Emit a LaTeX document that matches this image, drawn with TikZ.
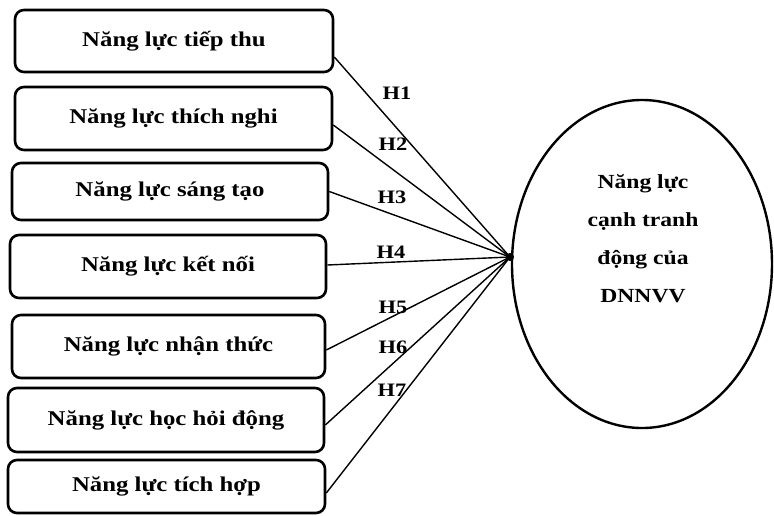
\documentclass[tikz,border=0pt]{standalone}
\usepackage{fontspec}
\setmainfont{Liberation Serif}[FakeStretch=1.18]
\usetikzlibrary{shapes.geometric}
\tikzset{
  factor/.style={draw, line width=2.6pt, rounded corners=9pt, inner sep=0pt,
    font=\fontsize{21}{24}\selectfont\bfseries},
  hyp/.style={font=\fontsize{19}{22}\selectfont\bfseries, inner sep=0pt},
  link/.style={line width=1.4pt},
  target/.style={draw, ellipse, line width=2.4pt, inner sep=0pt}
}
\begin{document}
\begin{tikzpicture}[x=1pt, y=-1pt]
\useasboundingbox (0,0) rectangle (774,515);
\node[factor, minimum width=318pt, minimum height=62pt] (b1) at (174,41) {Năng lực tiếp thu};
\node[factor, minimum width=317pt, minimum height=63pt] (b2) at (173.5,118.5) {Năng lực thích nghi};
\node[factor, minimum width=316pt, minimum height=57pt] (b3) at (170,191.5) {Năng lực sáng tạo};
\node[factor, minimum width=316pt, minimum height=63pt] (b4) at (168,266.5) {Năng lực kết nối};
\node[factor, minimum width=313pt, minimum height=63pt] (b5) at (168.5,346.5) {Năng lực nhận thức};
\node[factor, minimum width=316pt, minimum height=64pt] (b6) at (166,420) {Năng lực học hỏi động};
\node[factor, minimum width=317pt, minimum height=53pt] (b7) at (166.5,486.5) {Năng lực tích hợp};

\node[target, minimum width=260pt, minimum height=328pt] (e) at (642,264) {};
\node[font=\fontsize{20}{38}\selectfont\bfseries, align=center, inner sep=0pt] (etext) at (643,239)
  {Năng lực\\cạnh tranh\\động của\\DNNVV};

\coordinate (conv) at (510,257);
\draw[link] ([yshift=-16pt]b1.east) -- (conv);
\draw[link] ([yshift=-6.5pt]b2.east) -- (conv);
\draw[link] (b3.east) -- (conv);
\draw[link] ([yshift=1.5pt]b4.east) -- (conv);
\draw[link] ([yshift=-3.5pt]b5.east) -- (conv);
\draw[link] ([yshift=-5pt]b6.east) -- (conv);
\draw[link] ([yshift=-6.5pt]b7.east) -- (conv);
\fill (conv) circle (4pt);

\node[hyp] (h1) at (397,93) {H1};
\node[hyp] (h2) at (393,144) {H2};
\node[hyp] (h3) at (392,197) {H3};
\node[hyp] (h4) at (391,252) {H4};
\node[hyp] (h5) at (393,307) {H5};
\node[hyp] (h6) at (393,347) {H6};
\node[hyp] (h7) at (392,390) {H7};
\end{tikzpicture}
\end{document}
